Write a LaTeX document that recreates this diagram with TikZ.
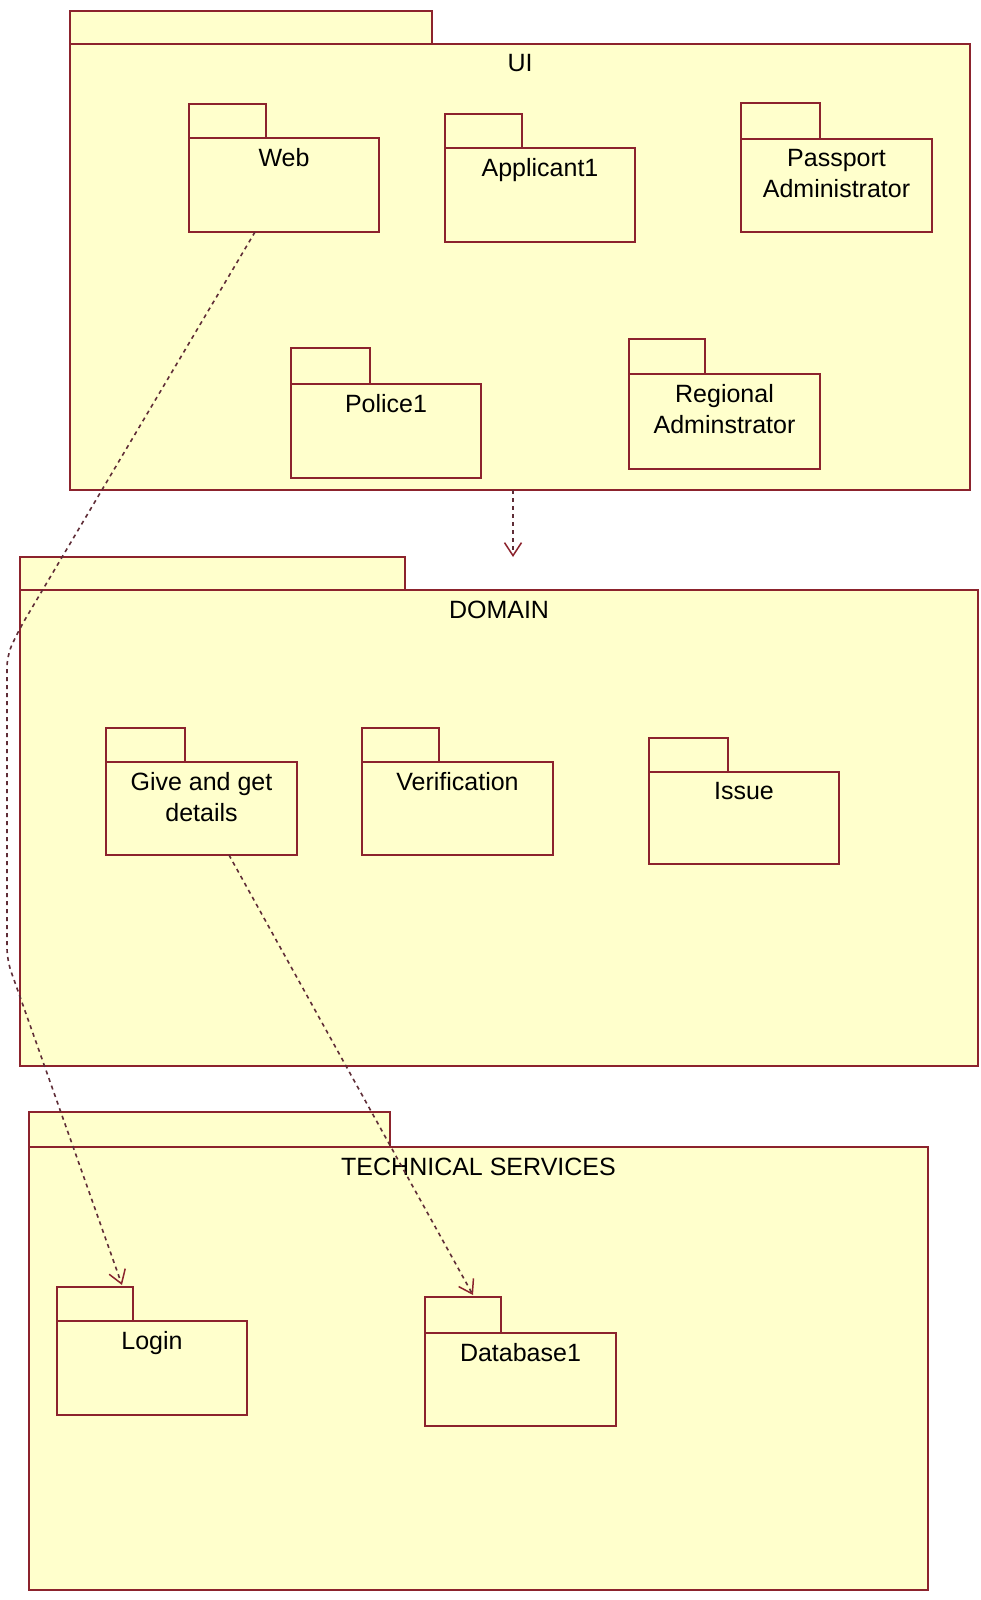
\documentclass[tikz,border=0pt]{standalone}
\usepackage{fontspec}
\setmainfont{Liberation Sans}
\usetikzlibrary{arrows.meta}
\definecolor{pkgfill}{RGB}{255,255,204}
\definecolor{pkgedge}{RGB}{140,35,45}
\definecolor{depline}{RGB}{95,45,55}
\tikzset{
  pkgshape/.style={draw=pkgedge, fill=pkgfill, line width=1.8pt, inner sep=0pt, outer sep=0pt},
  pkglabel/.style={inner sep=0pt, align=center, font={\fontsize{25}{31}\selectfont}},
  dep/.style={draw=depline, line width=1.6pt, dash pattern=on 4pt off 4pt,
    -{Straight Barb[length=13pt,width=17pt,line width=1.5pt,color=pkgedge]}},
}
% \umlpkg{name}{left}{tab top}{tab right}{body top}{right}{bottom}{label}
\newcommand\umlpkg[8]{%
  \node[pkgshape, anchor=north west, minimum width=#6pt-#2pt, minimum height=#7pt-#5pt] (#1) at (#2,#5) {};
  \node[pkgshape, anchor=south west, minimum width=#4pt-#2pt, minimum height=#5pt-#3pt] (#1-tab) at (#2,#5) {};
  \node[pkglabel, anchor=north] (#1-label) at ([yshift=-10.5pt]#1.north) {#8};
}
\begin{document}
\begin{tikzpicture}[x=1pt,y=-1pt]
\useasboundingbox[fill=white] (0,0) rectangle (981,1600);

% UI layer
\umlpkg{ui}{70}{11}{432}{44}{970}{490}{UI}
\umlpkg{web}{189}{104}{266}{138}{379}{232}{Web}
\umlpkg{applicant}{445}{114}{522}{148}{635}{242}{Applicant1}
\umlpkg{passport}{741}{103}{820}{139}{932}{232}{Passport\\Administrator}
\umlpkg{police}{291}{348}{370}{384}{481}{478}{Police1}
\umlpkg{regional}{629}{339}{705}{374}{820}{469}{Regional\\Adminstrator}

% Domain layer
\umlpkg{domain}{20}{557}{405}{590}{978}{1066}{DOMAIN}
\umlpkg{give}{106}{728}{185}{762}{297}{855}{Give and get\\details}
\umlpkg{verification}{362}{728}{439}{762}{553}{855}{Verification}
\umlpkg{issue}{649}{738}{728}{772}{839}{864}{Issue}

% Technical services layer
\umlpkg{tech}{29}{1112}{390}{1147}{928}{1590}{TECHNICAL SERVICES}
\umlpkg{login}{57}{1287}{133}{1321}{247}{1415}{Login}
\umlpkg{database}{425}{1297}{501}{1333}{616}{1426}{Database1}

% Dependencies
\draw[dep] ([xshift=-7pt]ui.south) -- ([xshift=-7pt]ui.south |- domain-tab.north);

\coordinate (webbend1) at (20,628);
\coordinate (webbend2) at (7,655);
\coordinate (webbend3) at (7,960);
\draw[dep, rounded corners=12pt] ([xshift=-29pt]web.south) -- (webbend1) -- (webbend2)
  -- (webbend3) -- ([xshift=27pt,yshift=2pt]login-tab.north);

\draw[dep] ([xshift=27.5pt]give.south) -- ([xshift=10pt,yshift=2pt]database-tab.north);
\end{tikzpicture}
\end{document}
